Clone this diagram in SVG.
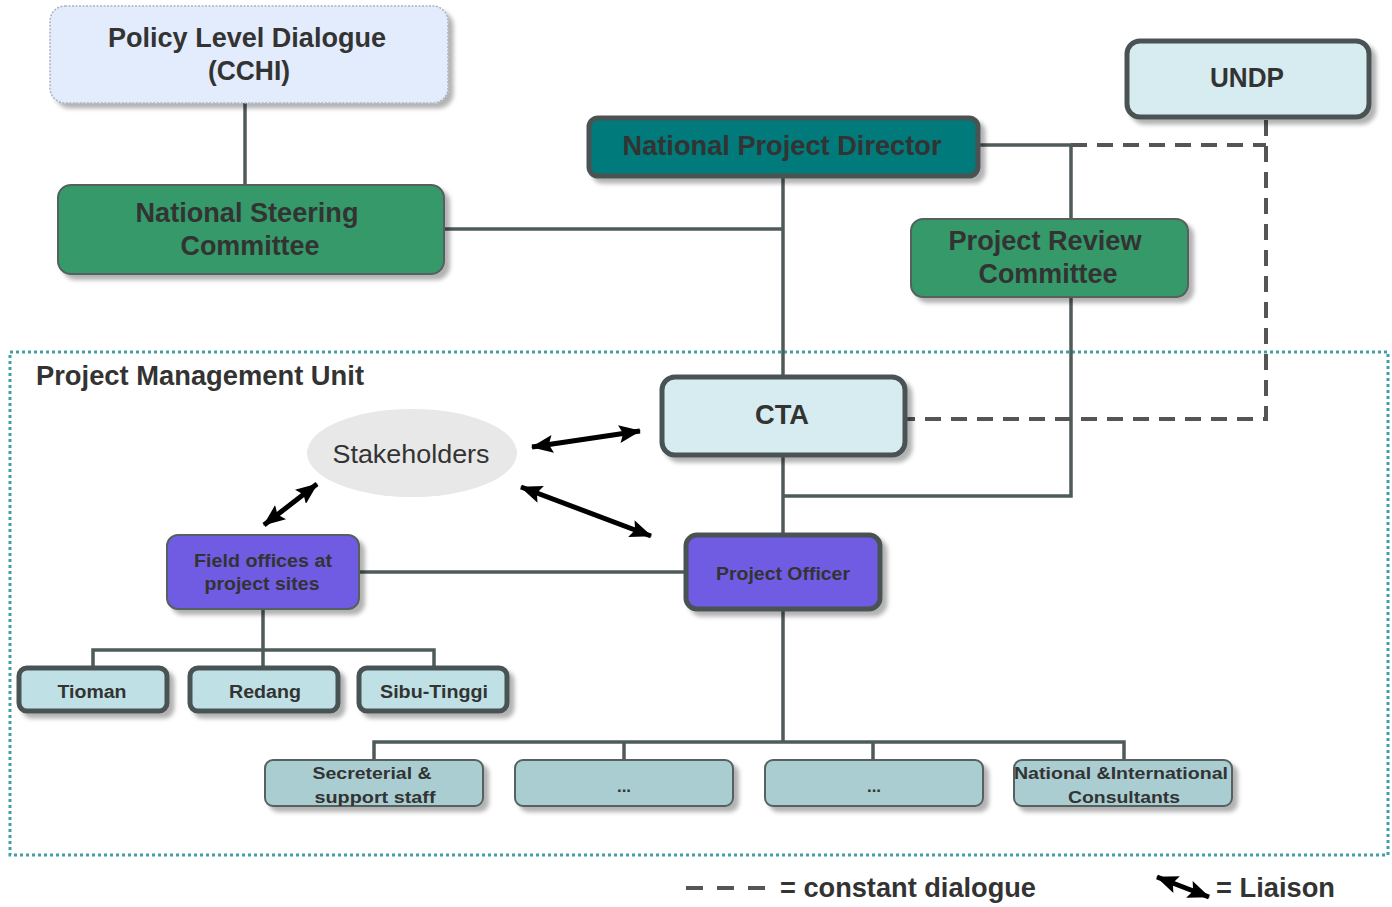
<svg xmlns="http://www.w3.org/2000/svg" width="1392" height="907" viewBox="0 0 1392 907">
<style>
text{font-family:"Liberation Sans",Arial,sans-serif;font-weight:bold;fill:#333;text-anchor:middle}
.big{font-size:27px}
.mid{font-size:18px}
.sm{font-size:17px}
.ln{fill:none;stroke:#4f5b5b;stroke-width:3.5}
.dash{fill:none;stroke:#555;stroke-width:4;stroke-dasharray:16 10}
.arr{fill:none;stroke:#000;stroke-width:5;marker-start:url(#ah);marker-end:url(#ah)}
.thick{stroke:#4a5252;stroke-width:5}
.thin{stroke:#55605f;stroke-width:2}
.green{fill:#35996a}
.lb{fill:#d7ecf0}
.pur{fill:#6f5be3}
.site{fill:#bfe0e5}
.staff{fill:#a9cdd1}
</style>
<defs>
<filter id="sh" x="-10%" y="-10%" width="130%" height="140%">
<feDropShadow dx="5" dy="5" stdDeviation="2" flood-color="#000" flood-opacity="0.3"/>
</filter>
<marker id="ah" viewBox="0 0 22 18" refX="21" refY="9" markerWidth="22" markerHeight="18" markerUnits="userSpaceOnUse" orient="auto-start-reverse">
<path d="M0,0 L22,9 L0,18 L4,9 z" fill="#000"/>
</marker>
</defs>
<rect width="1392" height="907" fill="#fff"/>

<!-- PMU boundary -->
<g id="pmu">
<rect x="10" y="352" width="1378" height="503" fill="none" stroke="#40a0a8" stroke-width="3" stroke-dasharray="3 3"/>
<text x="36" y="385" class="big" style="text-anchor:start" textLength="328" lengthAdjust="spacingAndGlyphs">Project Management Unit</text>
</g>

<!-- connectors -->
<g id="connectors">
<path class="ln" d="M245,103 V185"/>
<path class="ln" d="M783,176 V377"/>
<path class="ln" d="M444,229 H783"/>
<path class="ln" d="M978,145 H1071 V219"/>
<path class="ln" d="M1071,297 V496 H783"/>
<path class="ln" d="M783,455 V535"/>
<path class="ln" d="M359,572 H686"/>
<path class="ln" d="M263,609 V650 M93,668 V650 H434 V668 M263,650 V668"/>
<path class="ln" d="M783,609 V742 M374,760 V742 H1124 V760 M624,742 V760 M873,742 V760"/>
<path class="dash" d="M1071,145 H1266"/>
<path class="dash" d="M1266,120 V419 H905"/>
<path class="arr" d="M532,447 L640,431"/>
<path class="arr" d="M264,525 L317,484"/>
<path class="arr" d="M521,487 L651,536"/>
</g>

<g id="policy">
<rect x="50" y="6" width="398" height="97" rx="15" fill="#e3ecfc" stroke="#aab2c0" stroke-width="1.5" stroke-dasharray="2 1.5" filter="url(#sh)"/>
<text x="247" y="47" class="big" fill="#222" textLength="278" lengthAdjust="spacingAndGlyphs">Policy Level Dialogue</text>
<text x="249" y="80" class="big" textLength="82" lengthAdjust="spacingAndGlyphs">(CCHI)</text>
</g>

<g id="nsc">
<rect x="58" y="185" width="386" height="89" rx="13" class="green thin" filter="url(#sh)"/>
<text x="247" y="222" class="big" textLength="223" lengthAdjust="spacingAndGlyphs">National Steering</text>
<text x="250" y="255" class="big" textLength="139" lengthAdjust="spacingAndGlyphs">Committee</text>
</g>

<g id="npd">
<rect x="589" y="118" width="389" height="58" rx="9" fill="#027a7a" class="thick" filter="url(#sh)"/>
<text x="782" y="155" class="big" textLength="319" lengthAdjust="spacingAndGlyphs">National Project Director</text>
</g>

<g id="undp">
<rect x="1127" y="41" width="242" height="76" rx="13" class="lb thick" filter="url(#sh)"/>
<text x="1247" y="87" class="big" textLength="74" lengthAdjust="spacingAndGlyphs">UNDP</text>
</g>

<g id="prc">
<rect x="911" y="219" width="277" height="78" rx="12" class="green thin" filter="url(#sh)"/>
<text x="1045" y="250" class="big" textLength="193" lengthAdjust="spacingAndGlyphs">Project Review</text>
<text x="1048" y="283" class="big" textLength="139" lengthAdjust="spacingAndGlyphs">Committee</text>
</g>

<g id="cta">
<rect x="662" y="377" width="243" height="78" rx="13" class="lb thick" filter="url(#sh)"/>
<text x="782" y="424" class="big" textLength="54" lengthAdjust="spacingAndGlyphs">CTA</text>
</g>

<g id="stakeholders">
<ellipse cx="412" cy="453" rx="105" ry="44" fill="#e8e8e8"/>
<text x="411" y="463" style="font-weight:normal;font-size:26px" textLength="157" lengthAdjust="spacingAndGlyphs">Stakeholders</text>
</g>

<g id="field">
<rect x="167" y="535" width="192" height="74" rx="11" class="pur thin" filter="url(#sh)"/>
<text x="263" y="567" class="mid" textLength="138" lengthAdjust="spacingAndGlyphs">Field offices at</text>
<text x="262" y="590" class="mid" textLength="115" lengthAdjust="spacingAndGlyphs">project sites</text>
</g>

<g id="po">
<rect x="686" y="535" width="194" height="74" rx="11" class="pur thick" filter="url(#sh)"/>
<text x="783" y="580" class="mid" textLength="134" lengthAdjust="spacingAndGlyphs">Project Officer</text>
</g>

<g id="tioman">
<rect x="19" y="668" width="148" height="43" rx="8" class="site thick" filter="url(#sh)"/>
<text x="92" y="698" class="mid" textLength="69" lengthAdjust="spacingAndGlyphs">Tioman</text>
</g>
<g id="redang">
<rect x="190" y="668" width="148" height="43" rx="8" class="site thick" filter="url(#sh)"/>
<text x="265" y="698" class="mid" textLength="72" lengthAdjust="spacingAndGlyphs">Redang</text>
</g>
<g id="sibu">
<rect x="359" y="668" width="148" height="43" rx="8" class="site thick" filter="url(#sh)"/>
<text x="434" y="698" class="mid" textLength="108" lengthAdjust="spacingAndGlyphs">Sibu-Tinggi</text>
</g>

<g id="secretarial">
<rect x="265" y="760" width="218" height="46" rx="8" class="staff thin" filter="url(#sh)"/>
<text x="372" y="779" class="sm" textLength="119" lengthAdjust="spacingAndGlyphs">Secreterial &amp;</text>
<text x="375" y="803" class="sm" textLength="121" lengthAdjust="spacingAndGlyphs">support staff</text>
</g>
<g id="dots1">
<rect x="515" y="760" width="218" height="46" rx="8" class="staff thin" filter="url(#sh)"/>
<text x="624" y="792" class="sm">...</text>
</g>
<g id="dots2">
<rect x="765" y="760" width="218" height="46" rx="8" class="staff thin" filter="url(#sh)"/>
<text x="874" y="792" class="sm">...</text>
</g>
<g id="consultants">
<rect x="1014" y="760" width="218" height="46" rx="8" class="staff thin" filter="url(#sh)"/>
<text x="1121" y="779" class="sm" textLength="214" lengthAdjust="spacingAndGlyphs">National &amp;International</text>
<text x="1124" y="803" class="sm" textLength="112" lengthAdjust="spacingAndGlyphs">Consultants</text>
</g>

<g id="legend">
<path d="M686,888 H767" fill="none" stroke="#555" stroke-width="4" stroke-dasharray="17 14"/>
<text x="780" y="897" class="big" style="text-anchor:start" textLength="256" lengthAdjust="spacingAndGlyphs">= constant dialogue</text>
<path class="arr" d="M1157,877 L1209,897"/>
<text x="1216" y="897" class="big" style="text-anchor:start" textLength="119" lengthAdjust="spacingAndGlyphs">= Liaison</text>
</g>
</svg>
